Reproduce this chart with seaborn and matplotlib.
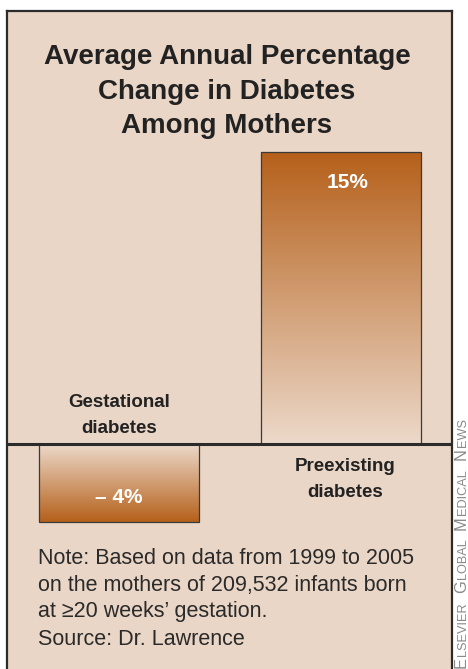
import numpy as np
import matplotlib
matplotlib.use("Agg")
import matplotlib.pyplot as plt
from matplotlib.colors import LinearSegmentedColormap
import seaborn as sns

# ------------------------------
# Data
# ------------------------------
categories = ["Gestational\ndiabetes", "Preexisting\ndiabetes"]
values = [-4, 15]
value_labels = ["\u2013 4%", "15%"]

title_lines = ["Average Annual Percentage", "Change in Diabetes", "Among Mothers"]
note_lines = [
    "Note: Based on data from 1999 to 2005",
    "on the mothers of 209,532 infants born",
    "at \u226520 weeks\u2019 gestation.",
    "Source: Dr. Lawrence",
]
credit_parts = [("E", "big"), ("LSEVIER", "small"), (" ", "gap"),
                ("G", "big"), ("LOBAL", "small"), (" ", "gap"),
                ("M", "big"), ("EDICAL", "small"), (" ", "gap"),
                ("N", "big"), ("EWS", "small")]

# ------------------------------
# Style
# ------------------------------
sns.set_theme(style="white")
body_font = "Liberation Sans"
plt.rcParams["font.family"] = [body_font, "DejaVu Sans"]

bg = "#EAD6C6"
dark = "#B5601A"
edge = "#2b2b2b"
grad = LinearSegmentedColormap.from_list("grad", ["#ECD9CA", dark])

W, H = 468, 669
fig = plt.figure(figsize=(W / 100, H / 100), dpi=100)
fig.patch.set_facecolor("white")
ax = fig.add_axes([7 / W, 0, 445 / W, 658 / H])
ax.set_facecolor(bg)

# ------------------------------
# Bars
# ------------------------------
sns.barplot(x=categories, y=values, width=0.72, color=dark, edgecolor="#3a3a3a",
            linewidth=0.9, errorbar=None, ax=ax)

g = np.linspace(0, 1, 256).reshape(-1, 1)
for p, v in zip(ax.patches, values):
    bb = p.get_bbox()
    y0, y1 = min(bb.y0, bb.y1), max(bb.y0, bb.y1)
    arr = g if v > 0 else g[::-1]
    im = ax.imshow(arr, cmap=grad, aspect="auto", origin="lower",
                   extent=(bb.x0, bb.x1, y0, y1), zorder=1)
    im.set_clip_path(p)
    p.set_facecolor("none")
    p.set_zorder(2)

ax.axhline(0, color=edge, lw=2.2, zorder=3)

ax.set_xlim(-0.505, 1.5)
ax.set_ylim(-11.53, 22.23)
ax.set_xticks([])
ax.set_yticks([])
ax.set_xlabel("")
ax.set_ylabel("")
for side in ["top", "left", "right"]:
    ax.spines[side].set_color(edge)
    ax.spines[side].set_linewidth(1.6)
ax.spines["bottom"].set_visible(False)

# value labels inside bars
for i, (v, lab) in enumerate(zip(values, value_labels)):
    y = 13.13 if v > 0 else -3.01
    ax.text(i + (0.03 if v > 0 else 0), y, lab, ha="center", va="baseline",
            color="white", fontsize=15, fontweight="bold", zorder=4)

# category labels on opposite side of zero
for i, (v, lab) in enumerate(zip(values, categories)):
    l1, l2 = lab.split("\n")
    if v < 0:
        ys = [1.92, 0.57]
        x = i
    else:
        ys = [-1.37, -2.71]
        x = i + 0.02
    for txt, y in zip([l1, l2], ys):
        ax.text(x, y, txt, ha="center", va="baseline", color="#222222",
                fontsize=13.5, fontweight="bold", zorder=4)

# ------------------------------
# Title and note
# ------------------------------
for txt, yb in zip(title_lines, [64.3, 99.3, 133.3]):
    fig.text(227 / W, 1 - yb / H, txt, ha="center", va="baseline",
             fontsize=20, fontweight="bold", color="#222222")

for txt, yb in zip(note_lines, [564.3, 590.5, 617, 645]):
    fig.text(38 / W, 1 - yb / H, txt, ha="left", va="baseline",
             fontsize=15.5, color="#2a2a2a")

# credit line, small caps drawn piece by piece
renderer = fig.canvas.get_renderer()
y = 668
for piece, kind in credit_parts:
    if kind == "gap":
        y -= 7
        continue
    size = 11.8 if kind == "big" else 9.2
    t = fig.text(466 / W, 1 - y / H, piece, rotation=90, rotation_mode="anchor",
                 ha="left", va="baseline", fontsize=size, color="#8a8a8a")
    y -= t.get_window_extent(renderer).height + 1.5

fig.savefig("out.png", dpi=100, facecolor="white")
